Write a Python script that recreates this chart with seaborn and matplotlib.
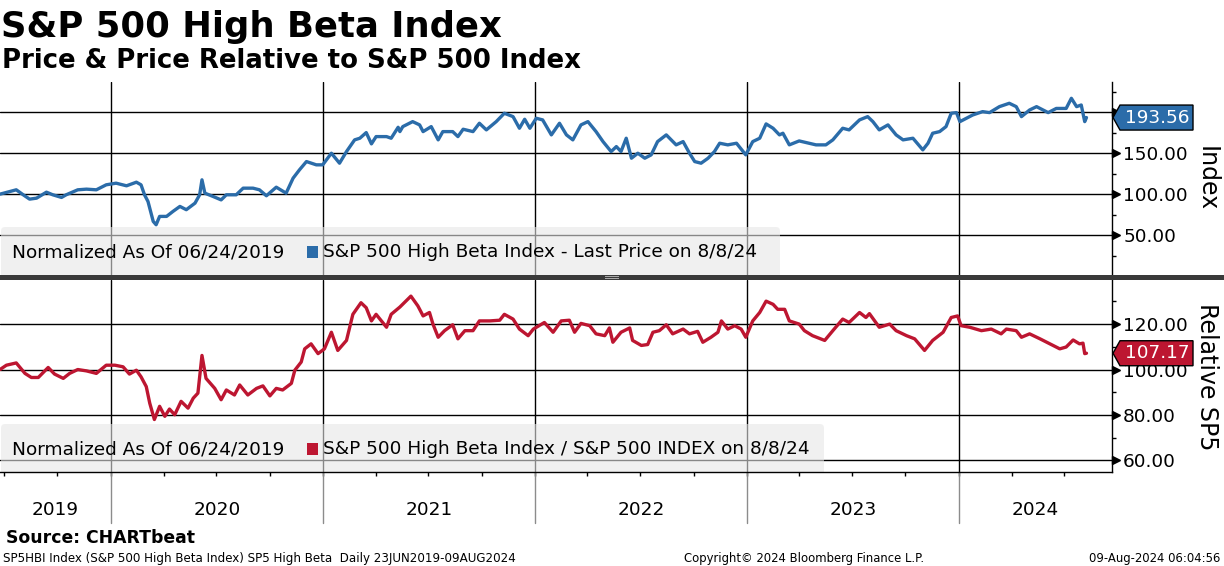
import numpy as np
import pandas as pd
import matplotlib
matplotlib.use("Agg")
import matplotlib.pyplot as plt
import matplotlib.dates as mdates
from matplotlib.patches import FancyBboxPatch, Polygon, Rectangle
from matplotlib.transforms import IdentityTransform, ScaledTranslation
import seaborn as sns

# ---------------- data ----------------
hb_dates = [
    "2019-06-24", "2019-07-22", "2019-08-03", "2019-08-14", "2019-08-26", "2019-09-12", "2019-09-23",
    "2019-10-08", "2019-10-16", "2019-11-05", "2019-11-20", "2019-12-07", "2019-12-24",
    "2020-01-10", "2020-01-28", "2020-02-14", "2020-02-22", "2020-02-28", "2020-03-05", "2020-03-14",
    "2020-03-19", "2020-03-25", "2020-04-06", "2020-04-17", "2020-04-29", "2020-05-10", "2020-05-25",
    "2020-06-02", "2020-06-06", "2020-06-11", "2020-06-25", "2020-07-09", "2020-07-18", "2020-08-04",
    "2020-08-16", "2020-09-02", "2020-09-13", "2020-09-25", "2020-10-12", "2020-10-29", "2020-11-10",
    "2020-11-21", "2020-12-03", "2020-12-20", "2020-12-31",
    "2021-01-15", "2021-01-29", "2021-02-10", "2021-02-24", "2021-03-05", "2021-03-16", "2021-03-25",
    "2021-04-02", "2021-04-20", "2021-04-28", "2021-05-10",
    "2021-05-13", "2021-05-18", "2021-06-04", "2021-06-16", "2021-06-22", "2021-07-06", "2021-07-18",
    "2021-07-26", "2021-08-12", "2021-08-21", "2021-08-30", "2021-09-16", "2021-09-27", "2021-10-09",
    "2021-10-26", "2021-11-09", "2021-11-24", "2021-12-05", "2021-12-14", "2021-12-23",
    "2022-01-03", "2022-01-14", "2022-01-29", "2022-02-12", "2022-02-24", "2022-03-07", "2022-03-21",
    "2022-04-02", "2022-04-16", "2022-04-28", "2022-05-12", "2022-05-21", "2022-05-29", "2022-06-07",
    "2022-06-16", "2022-06-27", "2022-07-09", "2022-07-20", "2022-07-31", "2022-08-15", "2022-09-01",
    "2022-09-13", "2022-09-24", "2022-10-03", "2022-10-14", "2022-10-26", "2022-11-06", "2022-11-15",
    "2022-11-29", "2022-12-14", "2022-12-30",
    "2023-01-11", "2023-01-23", "2023-02-03", "2023-02-15", "2023-02-26", "2023-03-04", "2023-03-15",
    "2023-04-01", "2023-04-30", "2023-05-17", "2023-05-29", "2023-06-15", "2023-06-26", "2023-07-14",
    "2023-07-28", "2023-08-06", "2023-08-17", "2023-09-01", "2023-09-15", "2023-09-27", "2023-10-14",
    "2023-10-31", "2023-11-09", "2023-11-17", "2023-11-29", "2023-12-10", "2023-12-19", "2023-12-28",
    "2024-01-03", "2024-01-14", "2024-01-25", "2024-02-11", "2024-02-23", "2024-03-11", "2024-03-28",
    "2024-04-09", "2024-04-18", "2024-05-02", "2024-05-14", "2024-06-03", "2024-06-17", "2024-07-04",
    "2024-07-13", "2024-07-22", "2024-07-30", "2024-08-05", "2024-08-08",
]
hb_values = [
    100, 105.3, 99.2, 93.9, 95.1, 102.4, 99.2, 96, 99.2, 105.3, 106.1, 105.3, 111.4,
    113.4, 110.2, 114.6, 111.4, 99.2, 91, 66.7, 62.6, 72.8, 72.8, 78.9, 85, 81, 89, 99.2, 117.5,
    101.2, 97.2, 93, 99.2, 99.2, 107.3, 107.3, 105.3, 98, 108.5, 101.2, 119.5, 129.7, 139.8, 135.8, 135.8,
    150, 137.8, 152, 166.3, 168.3, 175.2, 161.4, 170.3, 170.3, 168.3, 181.7,
    176.4, 182.5, 188.6, 184.6, 176.4, 182.5, 166.3, 176.4, 176.4, 170.3, 179.3, 176.4, 186.6, 178.5,
    188.6, 198.8, 194.7, 180.5, 191.5, 180.5,
    192.7, 190.7, 172.4, 186.6, 172.4, 166.3, 184.6, 188.6, 176.4, 164.2, 152, 158.1, 152, 168.3,
    143.9, 150, 143.9, 148, 164.2, 172.4, 160.2, 164.2, 150, 139.8, 137.8, 143.9, 152, 162.2, 160.2,
    162.2, 148,
    164.2, 168.3, 185.8, 180.5, 172.4, 174.4, 160.2, 165, 160.2, 160.2, 166.3, 180.5, 178.5, 190.7,
    194.7, 188.6, 178.5, 184.6, 172.4, 166.3, 168.3, 154.1, 162.2, 174.4, 176.4, 182.5, 198.8, 199.6,
    188.6, 192.7, 196.7, 200.8, 199.6, 206.9, 211, 206.9, 194.7, 202.8, 206.9, 199.6, 204.7, 204.7,
    217.1, 206.9, 208.9, 188.6, 193.56,
]

rel_dates = [
    "2019-06-24", "2019-07-05", "2019-07-22", "2019-08-06", "2019-08-17", "2019-08-29", "2019-09-15",
    "2019-09-26", "2019-10-11", "2019-10-22", "2019-11-05", "2019-11-20", "2019-12-07", "2019-12-24",
    "2020-01-08", "2020-01-22", "2020-02-02", "2020-02-14", "2020-02-22", "2020-03-02", "2020-03-08",
    "2020-03-16", "2020-03-25", "2020-04-03", "2020-04-11", "2020-04-20", "2020-05-01", "2020-05-13",
    "2020-05-22", "2020-05-30", "2020-06-06", "2020-06-13", "2020-06-28", "2020-07-09", "2020-07-18",
    "2020-08-01", "2020-08-10", "2020-08-24", "2020-09-08", "2020-09-19", "2020-10-01", "2020-10-12",
    "2020-10-23", "2020-11-07", "2020-11-13", "2020-11-24", "2020-11-30", "2020-12-11", "2020-12-23",
    "2021-01-03", "2021-01-15", "2021-01-26", "2021-02-10", "2021-02-21", "2021-03-07", "2021-03-16",
    "2021-03-25", "2021-04-02", "2021-04-20", "2021-04-28", "2021-05-13", "2021-06-01", "2021-06-13",
    "2021-06-22", "2021-07-03", "2021-07-09", "2021-07-18", "2021-07-29", "2021-08-12", "2021-08-21",
    "2021-09-02", "2021-09-16", "2021-09-27", "2021-10-15", "2021-11-01", "2021-11-09", "2021-11-24",
    "2021-12-05", "2021-12-20", "2021-12-29",
    "2022-01-17", "2022-02-01", "2022-02-15", "2022-03-01", "2022-03-10", "2022-03-21", "2022-04-05",
    "2022-04-16", "2022-05-01", "2022-05-09", "2022-05-15", "2022-05-29", "2022-06-13", "2022-06-18",
    "2022-07-03", "2022-07-14", "2022-07-23", "2022-08-03", "2022-08-15", "2022-08-26", "2022-09-13",
    "2022-09-24", "2022-10-08", "2022-10-17", "2022-10-31", "2022-11-12", "2022-11-18", "2022-11-29",
    "2022-12-11", "2022-12-22", "2022-12-30",
    "2023-01-11", "2023-01-23", "2023-02-03", "2023-02-15", "2023-02-23", "2023-03-07", "2023-03-15",
    "2023-04-01", "2023-04-10", "2023-04-24", "2023-05-15", "2023-05-29", "2023-06-15", "2023-06-26",
    "2023-07-14", "2023-07-25", "2023-07-31", "2023-08-17", "2023-09-04", "2023-09-15", "2023-10-03",
    "2023-10-17", "2023-11-03", "2023-11-17", "2023-12-05", "2023-12-19", "2023-12-30",
    "2024-01-05", "2024-01-20", "2024-02-09", "2024-02-26", "2024-03-14", "2024-03-23", "2024-04-09",
    "2024-04-18", "2024-05-02", "2024-05-20", "2024-06-06", "2024-06-23", "2024-07-04", "2024-07-16",
    "2024-07-27", "2024-08-02", "2024-08-05", "2024-08-08",
]
rel_values = [
    100, 101.9, 102.9, 98.3, 96.5, 96.5, 100.9, 98, 96.1, 98.3, 100, 99.4, 98.3, 101.9,
    101.9, 101.2, 98, 99.7, 96.8, 92.5, 85.2, 78, 83.8, 79.4, 82.6, 80.1, 86, 83, 87.4, 89.6, 106.2,
    96.1, 91.7, 86.7, 91, 88.8, 93.2, 88.8, 91.7, 92.8, 88.4, 91.7, 91, 93.9, 99.7, 103.3, 109.1,
    111.3, 107,
    109.1, 116.4, 108.4, 112.8, 124.3, 129.4, 127.2, 121.4, 124.3, 118.6, 124.3, 127.5, 132.3, 128,
    123.6, 125.1, 120, 114.2, 117.1, 119.7, 113.5, 117.1, 117.1, 121.4, 121.4, 121.7, 124.3, 122.2,
    117.8, 114.9, 117.8,
    120.7, 116.4, 121.4, 121.7, 116.4, 120.3, 119.3, 115.7, 114.9, 118.3, 112, 116.4, 118.3, 112.8,
    110.6, 111, 116.4, 117.1, 119.7, 115.7, 117.8, 115.7, 116.8, 112, 114.2, 116.4, 121.4, 117.8,
    119.3, 117.8, 114.2,
    121.4, 125.1, 130.1, 128.7, 126.5, 126.5, 121.4, 120, 117.1, 114.9, 112.8, 117.1, 122.2, 120.7,
    125.1, 122.9, 124.6, 118.6, 120, 117.1, 114.9, 113.5, 108.4, 112.8, 116.4, 122.9, 123.6,
    119.3, 118.6, 117.1, 117.8, 115.7, 117.8, 117.1, 114.2, 115.7, 113.5, 111.3, 109.1, 109.9, 113,
    111.3, 111.6, 107, 107.17,
]

year_labels = ["2019", "2020", "2021", "2022", "2023", "2024"]
top_ticks = [50, 100, 150, 200]
top_tick_labels = ["50.00", "100.00", "150.00", ""]   # 200.00 is hidden behind the value tag
top_minor = [0, 25, 75, 125, 175, 225]
bot_ticks = [60, 80, 100, 120]
bot_tick_labels = ["60.00", "80.00", "100.00", "120.00"]
bot_minor = [70, 90, 110, 130]

title = "S&P 500 High Beta Index"
subtitle = "Price & Price Relative to S&P 500 Index"
legend_note = "Normalized As Of 06/24/2019"
top_legend = "S&P 500 High Beta Index - Last Price on 8/8/24"
bot_legend = "S&P 500 High Beta Index / S&P 500 INDEX on 8/8/24"
top_ylabel = "Index"
bot_ylabel = "Relative SP5"
source = "Source: CHARTbeat"
footer_left = "SP5HBI Index (S&P 500 High Beta Index) SP5 High Beta  Daily 23JUN2019-09AUG2024"
footer_mid = "Copyright\u00a9 2024 Bloomberg Finance L.P."
footer_right = "09-Aug-2024 06:04:56"

BLUE = "#2b6ca9"
RED = "#bd1631"

# ---------------- style ----------------
sns.set_theme(style="white")
plt.rcParams["font.family"] = ["DejaVu Sans"]
for k in ["text.color", "axes.labelcolor", "xtick.color", "ytick.color", "axes.edgecolor"]:
    plt.rcParams[k] = "black"

W, H = 1224, 566
fig = plt.figure(figsize=(W / 100, H / 100), dpi=100)
fig.patch.set_facecolor("white")


def rect(top, bottom):
    return [0, 1 - bottom / H, 1112 / W, (bottom - top) / H]


ax1 = fig.add_axes(rect(82, 276))
ax2 = fig.add_axes(rect(280, 472))

hb = pd.DataFrame({"date": pd.to_datetime(hb_dates), "value": hb_values})
rel = pd.DataFrame({"date": pd.to_datetime(rel_dates), "value": rel_values})

sns.lineplot(data=hb, x="date", y="value", ax=ax1, color=BLUE, linewidth=2.4,
             estimator=None, zorder=3)
sns.lineplot(data=rel, x="date", y="value", ax=ax2, color=RED, linewidth=2.4,
             estimator=None, zorder=3)

x0 = pd.Timestamp("2019-06-24")
x1 = pd.Timestamp("2024-09-21")
year_starts = [pd.Timestamp(f"{y}-01-01") for y in range(2020, 2025)]

ax1.set_ylim(0, 237)
ax2.set_ylim(54.9, 139.4)

FS = 13.3
for ax, major, labels, minor in [(ax1, top_ticks, top_tick_labels, top_minor),
                                 (ax2, bot_ticks, bot_tick_labels, bot_minor)]:
    ax.set_xlim(x0, x1)
    ax.set_xlabel("")
    ax.set_ylabel("")
    ax.set_facecolor("white")
    for s in ["left", "top", "bottom"]:
        ax.spines[s].set_visible(False)
    ax.spines["right"].set_color("black")
    ax.spines["right"].set_linewidth(1)
    ax.yaxis.tick_right()
    ax.set_yticks(major)
    ax.set_yticklabels(labels)
    ax.set_yticks(minor, minor=True)
    ax.tick_params(axis="y", which="major", length=0, pad=8, labelsize=FS)
    ax.tick_params(axis="y", which="minor", length=3, width=1, direction="out", color="black")
    for v in major:
        ax.axhline(v, color="black", lw=1, zorder=1)
    for d in year_starts:
        ax.axvline(d, color="black", lw=1, zorder=1)
    # arrow tick markers
    tr = ax.get_yaxis_transform() + ScaledTranslation(4 / 100, 0, fig.dpi_scale_trans)
    ax.plot([1] * len(major), major, transform=tr, marker=">", ms=5.5, color="black",
            ls="none", clip_on=False, zorder=5)

ax1.tick_params(axis="x", which="both", bottom=False, labelbottom=False)

ax2.spines["bottom"].set_visible(True)
ax2.spines["bottom"].set_color("black")
ax2.spines["bottom"].set_linewidth(1)
ax2.xaxis.set_major_locator(mdates.MonthLocator(bymonth=[1, 4, 7, 10]))
ax2.tick_params(axis="x", which="major", bottom=True, length=3, width=1, direction="out",
                labelbottom=False, color="black")

# year labels and separators in label band
xt = ax2.get_xaxis_transform()
bounds = [x0] + year_starts + [x1]
for i, lab in enumerate(year_labels):
    mid = bounds[i] + (bounds[i + 1] - bounds[i]) / 2
    ax2.text(mid, (472 - 510) / 192, lab, transform=xt, ha="center", va="center",
             fontsize=FS, clip_on=False)
for d in year_starts:
    ax2.plot([d, d], [0, (472 - 523) / 192], transform=xt, color="#8c8c8c", lw=1,
             clip_on=False, zorder=1)

# legend boxes (pixel coordinates)
ident = IdentityTransform()


def legend(ax, ytop, ybot, right, color, label, ycenter):
    box = FancyBboxPatch((1, H - ybot), right - 1, ybot - ytop,
                         boxstyle="round,pad=0,rounding_size=4", transform=ident,
                         facecolor="#e7e7e7", edgecolor="none", alpha=0.59, zorder=2)
    ax.add_patch(box)
    fig.text(12 / W, 1 - ycenter / H, legend_note, fontsize=FS, ha="left", va="center",
             zorder=6)
    sq = Rectangle((307, H - (ycenter + 6)), 11, 12, transform=ident, facecolor=color,
                   edgecolor="none", zorder=6)
    fig.add_artist(sq)
    fig.text(323 / W, 1 - ycenter / H, label, fontsize=FS, ha="left", va="center", zorder=6)


legend(ax1, 227, 280, 780, BLUE, top_legend, 252)
legend(ax2, 424, 476, 824, RED, bot_legend, 449)

# separator between panels
fig.add_artist(Rectangle((0, H - 280), W, 5, transform=ident, facecolor="#3a3a3a",
                         edgecolor="none", zorder=8))
for yy in (276.5, 278.5):
    fig.add_artist(Rectangle((605, H - yy - 0.5), 14, 1, transform=ident,
                             facecolor="#a8a8a8", edgecolor="none", zorder=9))


# value tags
def value_tag(ax, val, color):
    _, yd = ax.transData.transform((0, val))
    h = 12.5
    pts = np.array([[1113, yd], [1120, yd + h], [1193, yd + h], [1193, yd - h], [1120, yd - h]])
    poly = Polygon(pts, closed=True, transform=ident, facecolor=color, edgecolor="black",
                   lw=1, zorder=10)
    fig.add_artist(poly)
    fig.text(1157 / W, yd / H, f"{val:.2f}", color="white", fontsize=FS, ha="center",
             va="center", zorder=11)


value_tag(ax1, hb_values[-1], BLUE)
value_tag(ax2, rel_values[-1], RED)

# axis side labels
fig.text(1207 / W, 1 - 179 / H, top_ylabel, rotation=270, fontsize=17, ha="center", va="center")
fig.text(1207 / W, 1 - 377 / H, bot_ylabel, rotation=270, fontsize=17, ha="center", va="center")

# titles
fig.text(1 / W, 1 - 37 / H, title, fontsize=25.5, fontweight="bold", ha="left", va="baseline")
fig.text(2 / W, 1 - 68 / H, subtitle, fontsize=18.7, fontweight="bold", ha="left", va="baseline")

# footer
fig.text(6 / W, 1 - 543 / H, source, fontsize=12.4, fontweight="bold", ha="left", va="baseline")
fig.text(3 / W, 1 - 562 / H, footer_left, fontsize=8.6, ha="left", va="baseline")
fig.text(804 / W, 1 - 562 / H, footer_mid, fontsize=8.4, ha="center", va="baseline")
fig.text(1220 / W, 1 - 562 / H, footer_right, fontsize=8.4, ha="right", va="baseline")

fig.savefig("out.png", dpi=100)
